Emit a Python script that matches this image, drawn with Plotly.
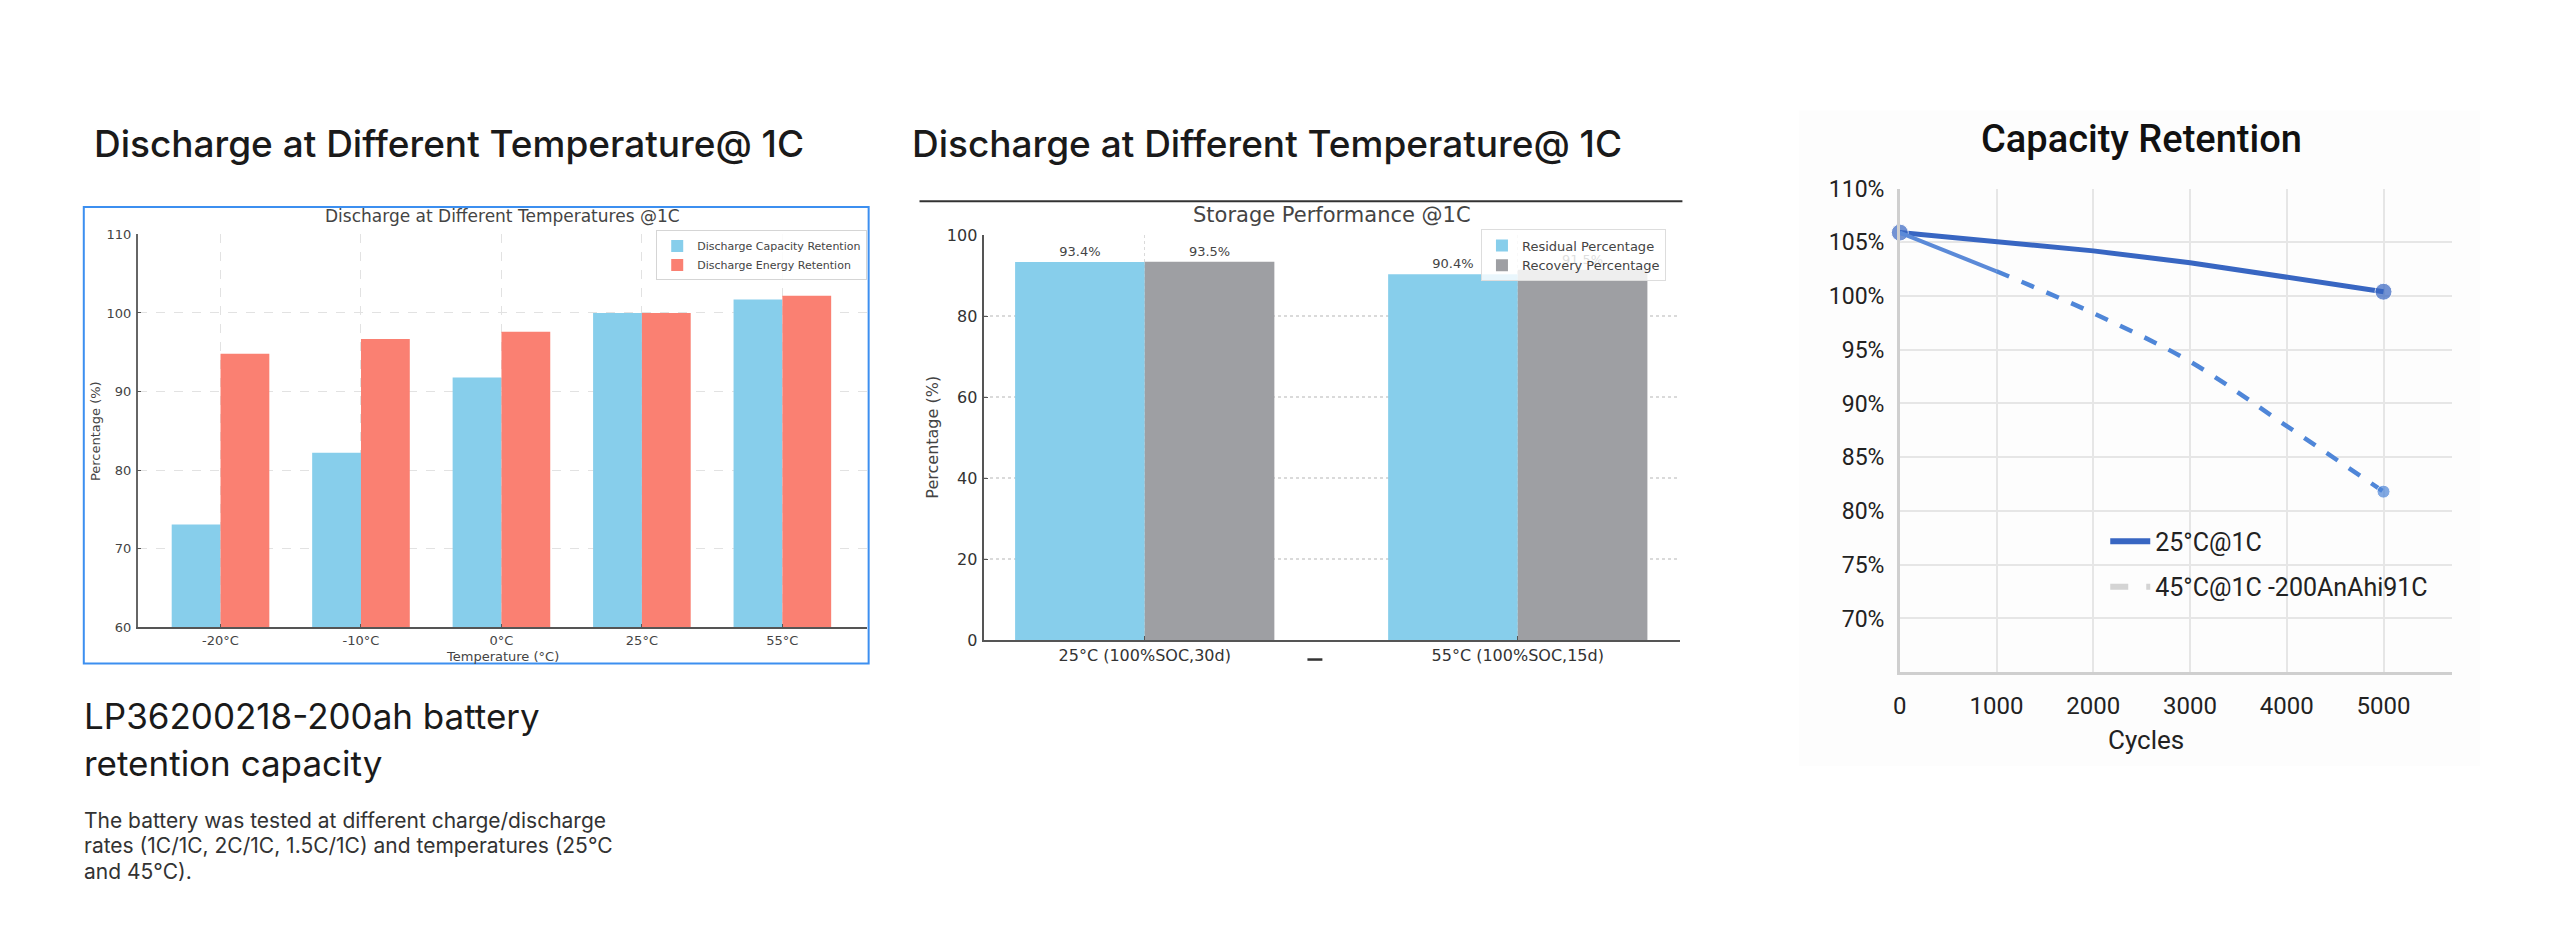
import plotly.graph_objects as go

W, H = 2560, 926

# ---------------- data ----------------
temps = ["-20°C", "-10°C", "0°C", "25°C", "55°C"]
cap_retention = [73.1, 82.2, 91.8, 100.0, 101.7]
energy_retention = [94.8, 96.7, 97.6, 100.0, 102.2]

storage_conds = ["25°C (100%SOC,30d)", "55°C (100%SOC,15d)"]
residual_pct = [93.4, 90.4]
recovery_pct = [93.5, 91.5]

cycles = [0, 1000, 2000, 3000, 4000, 5000]
ret_25 = [105.9, 105.1, 104.2, 103.1, 101.8, 100.4]
ret_45 = [105.9, 102.3, 98.4, 93.9, 87.9, 81.8]
ret_ticks = [70, 75, 80, 85, 90, 95, 100, 105, 110]
ret_tick_labels = [f"{v}%" for v in ret_ticks]
cycle_ticks = [0, 1000, 2000, 3000, 4000, 5000]


def px(x):
    return x / W


def py(y):
    return 1 - y / H


DV = "DejaVu Sans"
SKY = "#87CEEB"
SALMON = "#FA8072"
GRAY = "#9E9FA3"

fig = go.Figure()

# ---------- left chart ----------
fig.add_trace(go.Bar(x=temps, y=cap_retention, name="Discharge Capacity Retention",
                     marker=dict(color=SKY, line=dict(width=0)),
                     xaxis="x", yaxis="y", legend="legend"))
fig.add_trace(go.Bar(x=temps, y=energy_retention, name="Discharge Energy Retention",
                     marker=dict(color=SALMON, line=dict(width=0)),
                     xaxis="x", yaxis="y", legend="legend"))

# ---------- middle chart ----------
fig.add_trace(go.Bar(x=storage_conds, y=residual_pct, name="Residual Percentage",
                     marker=dict(color=SKY, line=dict(width=0)),
                     texttemplate="%{y}%", textposition="outside", cliponaxis=False,
                     textfont=dict(family=DV, size=13, color="#444"),
                     xaxis="x2", yaxis="y2", legend="legend2"))
fig.add_trace(go.Bar(x=storage_conds, y=recovery_pct, name="Recovery Percentage",
                     marker=dict(color=GRAY, line=dict(width=0)),
                     texttemplate="%{y}%", textposition="outside", cliponaxis=False,
                     textfont=dict(family=DV, size=13, color="#444"),
                     xaxis="x2", yaxis="y2", legend="legend2"))

# ---------- right chart ----------
fig.add_trace(go.Scatter(x=cycles, y=ret_25, mode="lines+markers", showlegend=False,
                         line=dict(color="#3866C2", width=5),
                         marker=dict(color="#3866C2", size=[17, 0, 0, 0, 0, 17]),
                         xaxis="x3", yaxis="y3", cliponaxis=False))
fig.add_trace(go.Scatter(x=cycles[:2], y=ret_45[:2], mode="lines", showlegend=False,
                         line=dict(color="#5B8AD8", width=4),
                         xaxis="x3", yaxis="y3"))
fig.add_trace(go.Scatter(x=cycles[1:], y=ret_45[1:], mode="lines+markers", showlegend=False,
                         line=dict(color="#4F86D8", width=4.5, dash="dash", shape="spline"),
                         marker=dict(color="#4F86D8", size=[0, 0, 0, 0, 13]),
                         xaxis="x3", yaxis="y3", cliponaxis=False))
# legend entries (styled as in the reference legend)
fig.add_trace(go.Scatter(x=[None], y=[None], mode="lines", name="25°C@1C",
                         line=dict(color="#3866C2", width=6),
                         xaxis="x3", yaxis="y3", legend="legend3", legendgroup="a"))
fig.add_trace(go.Scatter(x=[None], y=[None], mode="lines", name="45°C@1C -200AnAhi91C",
                         line=dict(color="#D4D4D4", width=6, dash="dash"),
                         xaxis="x3", yaxis="y3", legend="legend3", legendgroup="b"))

common_tick = dict(ticks="inside", ticklen=4, tickwidth=1, tickcolor="#555")

fig.update_layout(
    width=W, height=H,
    margin=dict(l=0, r=0, t=0, b=0),
    paper_bgcolor="white",
    plot_bgcolor="rgba(0,0,0,0)",
    barmode="group", bargap=0.305, bargroupgap=0,
    # left chart axes
    xaxis=dict(domain=[px(131), px(862)], anchor="y", type="category",
               range=[-0.59, 4.6], showgrid=True, gridcolor="#E2E2E2", griddash="dash",
               gridwidth=1, showline=True, linecolor="#555", linewidth=1.5,
               tickfont=dict(family=DV, size=13, color="#444"), zeroline=False,
               **common_tick),
    yaxis=dict(domain=[py(630), py(227)], anchor="x", range=[60, 110], dtick=10,
               showgrid=True, gridcolor="#E2E2E2", griddash="dash", gridwidth=1,
               showline=True, linecolor="#666", linewidth=1.5, zeroline=False,
               tickfont=dict(family=DV, size=13, color="#444"), ticklabelstandoff=2,
               **common_tick),
    # middle chart axes
    xaxis2=dict(domain=[px(980), px(1678)], anchor="y2", type="category",
                range=[-0.43, 1.436], showgrid=True, gridcolor="#DADADA", griddash="dot",
                gridwidth=1, showline=True, linecolor="#555", linewidth=1.5,
                tickfont=dict(family=DV, size=16, color="#333"), zeroline=False,
                **common_tick),
    yaxis2=dict(domain=[py(643), py(228)], anchor="x2", range=[0, 100], dtick=20,
                showgrid=True, gridcolor="#DADADA", griddash="dot", gridwidth=1.5,
                showline=True, linecolor="#555", linewidth=1.5, zeroline=False,
                tickfont=dict(family=DV, size=16, color="#333"), ticklabelstandoff=2,
                **common_tick),
    # right chart axes
    xaxis3=dict(domain=[px(1898), px(2452)], anchor="y3", range=[0, 5711],
                tickvals=cycle_ticks, showgrid=True, gridcolor="#E6E6E6", gridwidth=1.5,
                showline=True, linecolor="#CFCFCF", linewidth=2.5, zeroline=False,
                ticks="", ticklabelstandoff=10,
                tickfont=dict(family="Roboto", size=24, color="#222")),
    yaxis3=dict(domain=[py(676), py(180)], anchor="x3", range=[65, 110],
                tickvals=ret_ticks, ticktext=ret_tick_labels, showgrid=True,
                gridcolor="#E6E6E6", gridwidth=1.5, showline=True, linecolor="#CFCFCF",
                linewidth=2.5, zeroline=False, ticks="", ticklabelstandoff=8,
                tickfont=dict(family="Roboto", size=23, color="#222")),
    legend=dict(x=px(651), y=py(223), xanchor="left", yanchor="top",
                bgcolor="rgba(255,255,255,0.85)", bordercolor="#D5D5D5", borderwidth=1,
                font=dict(family=DV, size=11, color="#444"), itemwidth=30,
                tracegroupgap=0),
    legend2=dict(x=px(1478), y=py(222), xanchor="left", yanchor="top",
                 bgcolor="rgba(255,255,255,0.82)", bordercolor="#DDDDDD", borderwidth=1,
                 font=dict(family=DV, size=13, color="#444"), itemwidth=30,
                 tracegroupgap=0),
    legend3=dict(x=px(2104), y=py(565), xanchor="left", yanchor="middle",
                 bgcolor="rgba(0,0,0,0)", borderwidth=0, traceorder="grouped",
                 tracegroupgap=10, itemwidth=40,
                 font=dict(family="Roboto", size=25, color="#222")),
    showlegend=True,
)

ann = []


def text(x, y, s, size, family="Inter", color="#1a1a1a", xanchor="left",
         weight=400, angle=0):
    ann.append(dict(x=px(x), y=py(y), xref="paper", yref="paper", text=s,
                    showarrow=False, xanchor=xanchor, yanchor="middle",
                    textangle=angle, borderpad=0,
                    font=dict(family=family, size=size, color=color, weight=weight)))


# big section titles
text(86, 134, "Discharge at Different Temperature@ 1C", 37, weight=500)
text(906, 134, "Discharge at Different Temperature@ 1C", 37, weight=500)
# inner chart titles
text(496.5, 208, "Discharge at Different Temperatures @1C", 17, family=DV,
     color="#444", xanchor="center")
text(1329, 207, "Storage Performance @1C", 21, family=DV, color="#444",
     xanchor="center")
text(2140, 129, "Capacity Retention", 38, family="Roboto", color="#111",
     xanchor="center", weight=500)
# axis titles
text(89, 429, "Percentage (%)", 13, family=DV, color="#444", xanchor="center",
     angle=-90)
text(496.5, 660, "Temperature (°C)", 13, family=DV, color="#444", xanchor="center")
text(928, 435, "Percentage (%)", 16, family=DV, color="#444", xanchor="center",
     angle=-90)
text(2145, 746, "Cycles", 26, family="Roboto", color="#222", xanchor="center")
# description text
text(76, 721, "LP36200218-200ah battery", 35)
text(76, 769, "retention capacity", 35)
text(76, 828, "The battery was tested at different charge/discharge", 21,
     color="#333")
text(76, 854, "rates (1C/1C, 2C/1C, 1.5C/1C) and temperatures (25°C",
     21, color="#333")
text(76, 880, "and 45°C).", 21, color="#333")

shapes = [
    # light panel behind the right chart
    dict(type="rect", xref="paper", yref="paper", x0=px(1797), x1=px(2480),
         y0=py(772), y1=py(100), fillcolor="#FDFDFD", line=dict(width=0),
         layer="below"),
    # blue frame around left chart
    dict(type="rect", xref="paper", yref="paper", x0=px(77), x1=px(864),
         y0=py(667), y1=py(199), line=dict(color="#3C8FF0", width=2),
         fillcolor="rgba(0,0,0,0)", layer="above"),
    # rule above middle chart
    dict(type="line", xref="paper", yref="paper", x0=px(915), x1=px(1680),
         y0=py(193), y1=py(193), line=dict(color="#333", width=2)),
    # small stray mark under middle chart
    dict(type="line", xref="paper", yref="paper", x0=px(1304), x1=px(1319),
         y0=py(663), y1=py(663), line=dict(color="#333", width=2.5)),
]

fig.update_layout(annotations=ann, shapes=shapes)

fig.write_html("out.html")
